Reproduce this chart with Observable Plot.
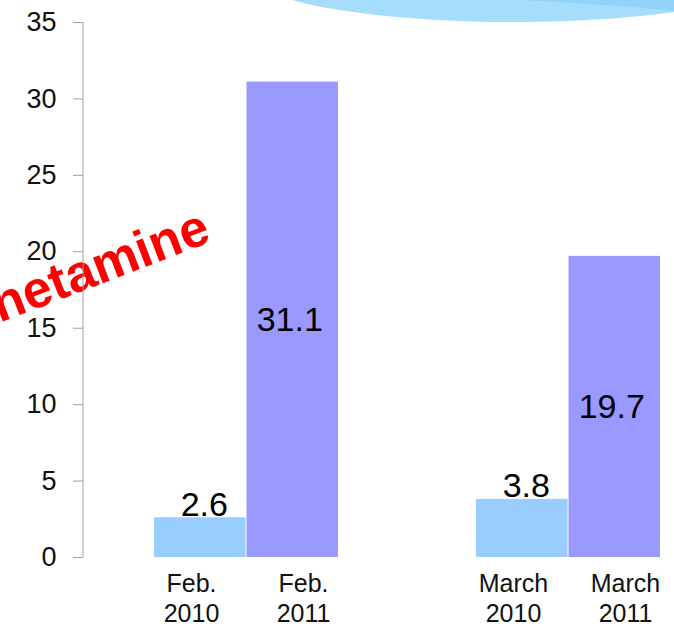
<!DOCTYPE html>
<html><head><meta charset="utf-8">
<script src="https://cdn.jsdelivr.net/npm/d3@7"></script>
<script src="https://cdn.jsdelivr.net/npm/@observablehq/plot@0.6"></script>
<style>
body{margin:0;background:#fff;}
#wrap{position:relative;width:674px;height:630px;overflow:hidden;background:#fff;}
#wave{position:absolute;left:0;top:0;pointer-events:none;}
</style></head><body><div id="wrap"></div>
<script>
const months = ["Feb.", "March"];
const years = ["2010", "2011"];
const values2010 = [2.6, 3.8];
const values2011 = [31.1, 19.7];
const yTicks = [0, 5, 10, 15, 20, 25, 30, 35];
const annotation = "hetamine";

const rows2010 = months.map((m, i) => ({month: m, year: years[0], value: values2010[i]}));
const rows2011 = months.map((m, i) => ({month: m, year: years[1], value: values2011[i]}));

const half = 92.5;
const font = "'Liberation Sans', Arial, Helvetica, sans-serif";

const plot = Plot.plot({
  width: 674, height: 630,
  marginTop: 22, marginBottom: 73, marginLeft: 83, marginRight: 12,
  style: {fontFamily: font, background: "transparent", color: "#111"},
  x: {domain: months, paddingInner: 0.4272, paddingOuter: 0.1099, align: 0.972, axis: null},
  y: {domain: [0, 35], axis: null},
  marks: [
    Plot.barY(rows2010, {x: "month", y: "value", fill: "#99ccff", insetRight: half}),
    Plot.barY(rows2011, {x: "month", y: "value", fill: "#9999ff", insetLeft: half}),
    Plot.axisY({ticks: yTicks, tickSize: 10, tickPadding: 17, fontSize: 27, stroke: "#a0a0a0", fill: "#111", label: null}),
    Plot.text(rows2010, {x: "month", y: "value", text: d => String(d.value), dx: -half / 2 + 4, dy: -2, lineAnchor: "bottom", fontSize: 34, fill: "#000"}),
    Plot.text(rows2011, {x: "month", y: d => d.value / 2, text: d => String(d.value), dx: half / 2 - 3, fontSize: 34, fill: "#000"}),
    Plot.text(rows2010, {x: "month", text: d => d.month + "\n" + d.year, frameAnchor: "bottom", lineAnchor: "top", dy: 13, dx: -55, fontSize: 25, lineHeight: 1.2, fill: "#111"}),
    Plot.text(rows2011, {x: "month", text: d => d.month + "\n" + d.year, frameAnchor: "bottom", lineAnchor: "top", dy: 13, dx: 57, fontSize: 25, lineHeight: 1.2, fill: "#111"}),
    Plot.text([annotation], {text: d => d, frameAnchor: "top-left", dx: 116, dy: 184, textAnchor: "end", rotate: -21, fontSize: 52, fontWeight: "bold", fill: "#ff0000"})
  ]
});

const ys = plot.scale("y");
d3.select(plot).append("line")
  .attr("x1", 83).attr("x2", 83)
  .attr("y1", ys.apply(0)).attr("y2", ys.apply(35))
  .attr("stroke", "#a0a0a0").attr("stroke-width", 1);

const wrap = document.getElementById("wrap");
wrap.appendChild(plot);

const wave = d3.create("svg").attr("id", "wave").attr("width", 674).attr("height", 40);
wave.append("path").attr("d", "M292,0 C340,14 430,22 510,22 C580,22 640,17 674,12 L674,0 Z").attr("fill", "#a6dcfc");
wave.append("path").attr("d", "M520,0 C580,3 640,7 674,11 L674,0 Z").attr("fill", "#8fd3f9");
wrap.appendChild(wave.node());
</script></body></html>
